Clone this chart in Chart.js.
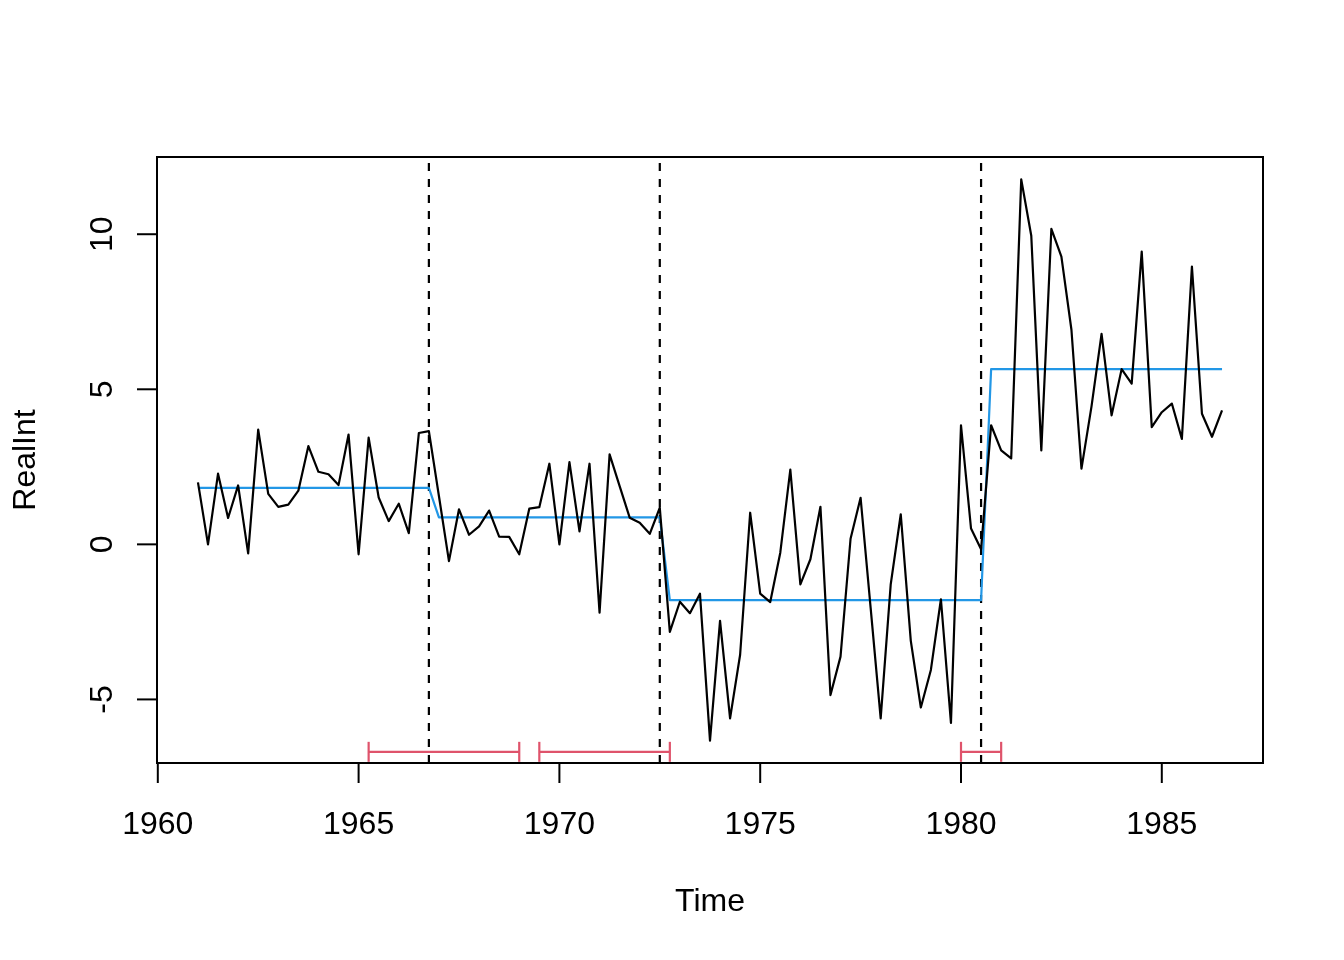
<!DOCTYPE html>
<html>
<head>
<meta charset="utf-8">
<script src="https://cdn.jsdelivr.net/npm/chart.js@4.4.0/dist/chart.umd.min.js"></script>
<style>
  html, body { margin: 0; padding: 0; background: #fff; }
  canvas { display: block; }
</style>
</head>
<body>
<canvas id="myChart" width="1344" height="960"></canvas>
<script>
// quarterly series, starts 1961 Q1
const startYear = 1961;
const freq = 4;
const realInt = [
  2.0, 0.0, 2.28, 0.85, 1.9, -0.29, 3.70, 1.63, 1.21, 1.28,
  1.73, 3.17, 2.34, 2.26, 1.91, 3.54, -0.32, 3.44, 1.51, 0.75,
  1.31, 0.36, 3.59, 3.65, 1.56, -0.54, 1.13, 0.31, 0.58, 1.09,
  0.25, 0.24, -0.32, 1.15, 1.20, 2.60, 0.0, 2.65, 0.42, 2.60,
  -2.20, 2.90, 1.88, 0.86, 0.70, 0.34, 1.18, -2.82, -1.85, -2.22,
  -1.59, -6.33, -2.47, -5.61, -3.56, 1.02, -1.59, -1.86, -0.27, 2.41,
  -1.29, -0.48, 1.21, -4.86, -3.62, 0.18, 1.50, -2.05, -5.61, -1.29,
  0.97, -3.11, -5.26, -4.05, -1.77, -5.76, 3.84, 0.51, -0.16, 3.84,
  3.03, 2.77, 11.77, 9.95, 3.03, 10.17, 9.28, 6.92, 2.44, 4.45,
  6.79, 4.16, 5.65, 5.18, 9.44, 3.78, 4.26, 4.54, 3.40, 8.96,
  4.21, 3.47, 4.32
];
// fitted segment means and how many quarters each covers
const segMeans = [1.82, 0.87, -1.80, 5.65];
const segLengths = [24, 23, 32, 24];
const breakDates = [1966.75, 1972.5, 1980.5];
const ciLower = [1965.25, 1969.5, 1980.0];
const ciUpper = [1969.0, 1972.75, 1981.0];
const ciLevel = -6.69;
const xTicks = [1960, 1965, 1970, 1975, 1980, 1985];
const yTicks = [-5, 0, 5, 10];

const xMin = 1959.98, xMax = 1987.52;
const yMin = -7.05, yMax = 12.49;
const FONT = "32px 'Liberation Sans', Arial, Helvetica, sans-serif";

let seriesPts = [];
for (let i = 0; i < realInt.length; i++) {
  seriesPts.push({ x: startYear + i / freq, y: realInt[i] });
}

let fittedPts = [];
let k = 0;
for (let s = 0; s < segMeans.length; s++) {
  for (let j = 0; j < segLengths[s]; j++) {
    fittedPts.push({ x: startYear + k / freq, y: segMeans[s] });
    k++;
  }
}

let datasets = [
  { data: seriesPts, borderColor: "#000", borderWidth: 2.2, pointRadius: 0, borderJoinStyle: "round" },
  { data: fittedPts, borderColor: "#2297E6", borderWidth: 2.2, pointRadius: 0, borderJoinStyle: "round" },
];
for (let i = 0; i < breakDates.length; i++) {
  datasets.push({
    data: [{ x: breakDates[i], y: yMin }, { x: breakDates[i], y: yMax }],
    borderColor: "#000", borderWidth: 2.2, borderDash: [8, 8], pointRadius: 0,
  });
}
for (let i = 0; i < ciLower.length; i++) {
  datasets.push({
    data: [{ x: ciLower[i], y: ciLevel }, { x: ciUpper[i], y: ciLevel }],
    borderColor: "#DF536B", borderWidth: 2.2,
    pointStyle: "line", pointRotation: 90, pointRadius: 10,
    pointBorderColor: "#DF536B", pointBorderWidth: 2.2, pointBackgroundColor: "#DF536B",
  });
}

//!-----------axes drawn R style--------------------------------------------------
const rAxes = {
  id: "rAxes",
  afterDraw(chart) {
    const c = chart.ctx;
    const a = chart.chartArea;
    const sx = chart.scales.x, sy = chart.scales.y;
    c.save();
    c.strokeStyle = "#000";
    c.fillStyle = "#000";
    c.lineWidth = 2;
    c.strokeRect(a.left, a.top, a.right - a.left, a.bottom - a.top);
    c.font = FONT;

    c.textAlign = "center";
    c.textBaseline = "alphabetic";
    for (let i = 0; i < xTicks.length; i++) {
      const px = sx.getPixelForValue(xTicks[i]);
      c.beginPath();
      c.moveTo(px, a.bottom);
      c.lineTo(px, a.bottom + 20);
      c.stroke();
      c.fillText(String(xTicks[i]), px, 834);
    }
    for (let i = 0; i < yTicks.length; i++) {
      const py = sy.getPixelForValue(yTicks[i]);
      c.beginPath();
      c.moveTo(a.left - 20, py);
      c.lineTo(a.left, py);
      c.stroke();
      c.save();
      c.translate(112, py);
      c.rotate(-Math.PI / 2);
      c.fillText(String(yTicks[i]), 0, 0);
      c.restore();
    }
    c.fillText("Time", (a.left + a.right) / 2, 911);
    c.save();
    c.translate(35, (a.top + a.bottom) / 2);
    c.rotate(-Math.PI / 2);
    c.fillText("RealInt", 0, 0);
    c.restore();
    c.restore();
  },
};

const ctx = document.getElementById("myChart").getContext("2d");
const myChart = new Chart(ctx, {
  type: "line",
  data: { datasets: datasets },
  options: {
    responsive: false,
    animation: false,
    devicePixelRatio: 1,
    layout: { padding: { left: 157, top: 157, right: 81, bottom: 197 } },
    plugins: { legend: { display: false }, tooltip: { enabled: false } },
    scales: {
      x: { type: "linear", min: xMin, max: xMax, display: false },
      y: { type: "linear", min: yMin, max: yMax, display: false },
    },
  },
  plugins: [rAxes],
});
</script>
</body>
</html>
